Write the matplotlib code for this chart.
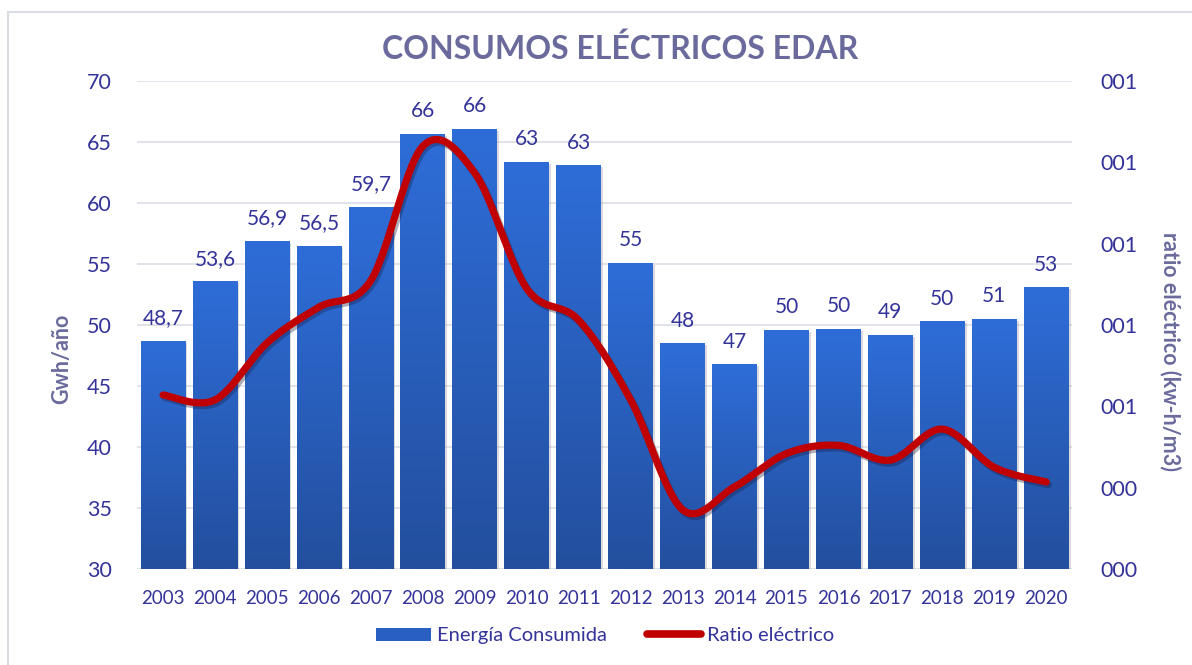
import numpy as np
import matplotlib
matplotlib.use('Agg')
import matplotlib.pyplot as plt
import matplotlib.patheffects as pe
from matplotlib.patches import Rectangle, Patch
from matplotlib.lines import Line2D
from matplotlib.colors import LinearSegmentedColormap
from matplotlib.ticker import FuncFormatter, MultipleLocator

plt.rcParams['font.family'] = ['Lato', 'DejaVu Sans']

# ---- data ----
years = ['2003', '2004', '2005', '2006', '2007', '2008', '2009', '2010', '2011',
         '2012', '2013', '2014', '2015', '2016', '2017', '2018', '2019', '2020']
energia = [48.7, 53.6, 56.9, 56.5, 59.7, 65.7, 66.1, 63.4, 63.1,
           55.1, 48.5, 46.8, 49.6, 49.7, 49.2, 50.3, 50.5, 53.1]
energia_labels = ['48,7', '53,6', '56,9', '56,5', '59,7', '66', '66', '63', '63',
                  '55', '48', '47', '50', '50', '49', '50', '51', '53']
ratio = [0.514, 0.508, 0.578, 0.622, 0.655, 0.820, 0.787, 0.645, 0.606,
         0.508, 0.373, 0.401, 0.442, 0.452, 0.434, 0.472, 0.425, 0.407]

title_col = '#6a6a9c'
tick_col = '#333399'
red = '#c00000'


def smooth(x, y, n=30):
    """Excel style smoothed line (Bezier with Catmull-Rom control points)"""
    x = np.asarray(x, float)
    y = np.asarray(y, float)
    px = np.concatenate([[x[0]], x, [x[-1]]])
    py = np.concatenate([[y[0]], y, [y[-1]]])
    xs, ys = [], []
    t = np.linspace(0, 1, n)
    for i in range(1, len(px) - 2):
        p0 = np.array([px[i - 1], py[i - 1]])
        p1 = np.array([px[i], py[i]])
        p2 = np.array([px[i + 1], py[i + 1]])
        p3 = np.array([px[i + 2], py[i + 2]])
        c1 = p1 + (p2 - p0) / 6.0
        c2 = p2 - (p3 - p1) / 6.0
        b = ((1 - t) ** 3)[:, None] * p1 + (3 * (1 - t) ** 2 * t)[:, None] * c1 \
            + (3 * (1 - t) * t ** 2)[:, None] * c2 + (t ** 3)[:, None] * p2
        xs.extend(b[:, 0])
        ys.extend(b[:, 1])
    return np.array(xs), np.array(ys)


fig = plt.figure(figsize=(11.92, 6.65), dpi=100)
fig.patches.append(Rectangle((8 / 1192, -0.1), 1.2, 1.1 - 12 / 665,
                             transform=fig.transFigure, fill=False,
                             edgecolor='#d9dde3', linewidth=1.5))

ax = fig.add_axes([0.115, 0.1444, 0.7845, 0.7336])
x = np.arange(len(years))
ymin, ymax = 30, 70

bars = ax.bar(x, np.array(energia) - ymin, bottom=ymin, width=0.86,
              color='#2a5fc2', zorder=2,
              path_effects=[pe.SimplePatchShadow(offset=(1.5, -1.5),
                                                  shadow_rgbFace='#9a9a9a',
                                                  alpha=0.35),
                            pe.Normal()])

# vertical gradient on each bar
grad = np.linspace(0, 1, 256).reshape(-1, 1)
bar_cmap = LinearSegmentedColormap.from_list('bars', ['#234f9e', '#2e6dd8'])
for b in bars:
    x0 = b.get_x()
    im = ax.imshow(grad, cmap=bar_cmap, origin='lower', aspect='auto',
                   extent=(x0, x0 + b.get_width(), ymin, ymin + b.get_height()),
                   zorder=2.5)
    im.set_clip_path(b)

for xi, v, lab in zip(x, energia, energia_labels):
    ax.annotate(lab, (xi, v), xytext=(0, 9), textcoords='offset points',
                ha='center', va='bottom', fontsize=15, color=tick_col)

ax.set_xlim(-0.5, len(years) - 0.5)
ax.set_ylim(ymin, ymax)
ax.yaxis.set_major_locator(MultipleLocator(5))
ax.set_xticks(x)
ax.set_xticklabels(years)
ax.set_axisbelow(True)
ax.grid(axis='y', color='#dde1e7', linewidth=1.3, zorder=0)
for s in ax.spines.values():
    s.set_visible(False)
ax.tick_params(axis='y', length=0, pad=18, labelsize=15.5, labelcolor=tick_col)
ax.tick_params(axis='x', length=0, pad=15, labelsize=13.5, labelcolor=tick_col)

# secondary axis: ratio
ax2 = ax.twinx()
sx, sy = smooth(x, ratio)
ax2.plot(sx, sy, color=red, linewidth=5.2, solid_capstyle='round', zorder=3,
         path_effects=[pe.SimpleLineShadow(offset=(1.5, -2), alpha=0.35,
                                           shadow_color='#1a1a40'),
                       pe.Normal()])
ax2.set_ylim(0.3, 0.9)
ax2.yaxis.set_major_locator(MultipleLocator(0.1))
ax2.yaxis.set_major_formatter(FuncFormatter(
    lambda v, p: '{:03d}'.format(int(np.floor(v + 0.5 + 1e-9)))))
for s in ax2.spines.values():
    s.set_visible(False)
ax2.tick_params(axis='y', length=0, pad=20, labelsize=15.5, labelcolor=tick_col)

fig.text(0.520, 0.926, 'CONSUMOS ELÉCTRICOS EDAR', ha='center', va='center',
         fontsize=23, fontweight='bold', color=title_col)
fig.text(62 / 1192, 0.46, 'Gwh/año', rotation=90, ha='center', va='center',
         fontsize=15.5, fontweight='bold', color=title_col)
fig.text(1170 / 1192, 0.472, 'ratio eléctrico (kw-h/m3)', rotation=-90,
         ha='center', va='center', fontsize=15.5, fontweight='bold',
         color=title_col)

handles = [Patch(facecolor='#2a5fc2', edgecolor='none'),
           Line2D([], [], color=red, linewidth=5.5, solid_capstyle='round')]
fig.legend(handles, ['Energía Consumida', 'Ratio eléctrico'], ncol=2,
           loc='center', bbox_to_anchor=(0.508, 0.044), frameon=False,
           fontsize=14.5, labelcolor=tick_col, handlelength=2.7,
           handleheight=0.6, handletextpad=0.3, columnspacing=2.0)

fig.savefig('out.png', dpi=100)
